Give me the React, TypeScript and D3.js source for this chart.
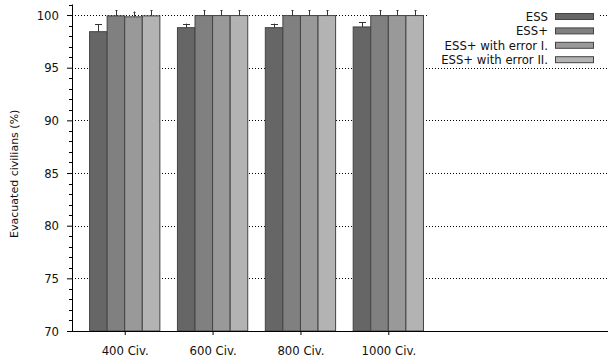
import * as d3 from "d3";
import { useEffect, useRef } from "react";

const categories = ["400 Civ.", "600 Civ.", "800 Civ.", "1000 Civ."];
const seriesNames = ["ESS", "ESS+", "ESS+ with error I.", "ESS+ with error II."];
const seriesColors = ["#666666", "#808080", "#999999", "#b3b3b3"];
const ess = [98.42, 98.8, 98.8, 98.87];
const essPlus = [99.92, 99.95, 99.95, 99.95];
const essErr1 = [99.83, 99.95, 99.95, 99.95];
const essErr2 = [99.92, 99.95, 99.95, 99.95];
const essErrBar = [0.72, 0.38, 0.38, 0.45];
const essPlusErrBar = [0.55, 0.5, 0.5, 0.5];
const essErr1ErrBar = [0.5, 0.5, 0.5, 0.5];
const essErr2ErrBar = [0.55, 0.5, 0.5, 0.5];
const yTicks = [70, 75, 80, 85, 90, 95, 100];

const FONT = "'DejaVu Sans', Verdana, sans-serif";

export default function App() {
  const width = 611, height = 360;
  const left = 72, right = 608, top = 4.5, bottom = 331;
  const gy = useRef<SVGGElement>(null);
  const gx = useRef<SVGGElement>(null);

  const x = d3.scaleLinear([-0.6, 5.5], [left, right]);
  const y = d3.scaleLinear([70, 101], [bottom, top]);
  const values = [ess, essPlus, essErr1, essErr2];
  const errs = [essErrBar, essPlusErrBar, essErr1ErrBar, essErr2ErrBar];
  const barW = 0.2;
  const minor = d3.range(70, 102, 1).filter(v => v % 5 !== 0);

  useEffect(() => {
    const ax = d3.axisLeft(y).tickValues(yTicks).tickSize(5).tickPadding(8).tickFormat(d3.format("d"));
    const g = d3.select(gy.current!).call(ax);
    g.attr("font-family", FONT).attr("font-size", 11.7);
    g.select(".domain").remove();
    g.selectAll("text").attr("fill", "#111").attr("dy", "0.36em");
    g.selectAll("line").attr("stroke", "#000");
  }, []);

  useEffect(() => {
    const ax = d3.axisBottom(x).tickValues(d3.range(categories.length)).tickSize(4).tickPadding(12)
      .tickFormat((d) => categories[d as number]);
    const g = d3.select(gx.current!).call(ax);
    g.attr("font-family", FONT).attr("font-size", 11.7);
    g.select(".domain").remove();
    g.selectAll("text").attr("fill", "#111");
    g.selectAll("line").attr("stroke", "#000");
  }, []);

  return (
    <svg width={width} height={height} style={{ position: "absolute", left: 0, top: 0 }}
         fontFamily={FONT}>
      <rect width={width} height={height} fill="white" />
      {yTicks.map(t => (
        <line key={t} x1={left} x2={right} y1={Math.round(y(t)) + 0.5} y2={Math.round(y(t)) + 0.5}
              stroke="#000" strokeWidth={1} strokeDasharray="1,2" />
      ))}
      {values.map((vals, j) => (
        <g key={j}>
          {vals.map((v, i) => {
            const x0 = x(i + (j - 2) * barW);
            const x1 = x(i + (j - 1) * barW);
            return (
              <rect key={i} x={x0} y={y(v)} width={x1 - x0} height={bottom - y(v)}
                    fill={seriesColors[j]} stroke="#444" strokeWidth={1} />
            );
          })}
        </g>
      ))}
      {values.map((vals, j) => (
        <g key={"e" + j} stroke="#333" strokeWidth={1}>
          {vals.map((v, i) => {
            const cx = Math.round(x(i + (j - 1.5) * barW)) + 0.5;
            const e = errs[j][i];
            const cap = j === 0 ? 3.5 : 1;
            return (
              <g key={i}>
                <line x1={cx} x2={cx} y1={y(v)} y2={y(v + e)} />
                <line x1={cx - cap} x2={cx + cap} y1={Math.round(y(v + e)) + 0.5} y2={Math.round(y(v + e)) + 0.5} />
              </g>
            );
          })}
        </g>
      ))}
      <line x1={left + 0.5} x2={left + 0.5} y1={top} y2={bottom + 0.5} stroke="#000" />
      <line x1={left} x2={right} y1={bottom + 0.5} y2={bottom + 0.5} stroke="#000" />
      {minor.map(m => (
        <line key={m} x1={left - 3} x2={left} y1={Math.round(y(m)) + 0.5} y2={Math.round(y(m)) + 0.5} stroke="#000" />
      ))}
      <g ref={gy} transform={`translate(${left},0)`} />
      <g ref={gx} transform={`translate(0,${bottom})`} />
      <text transform={`translate(18,${(top + bottom) / 2 + 6}) rotate(-90)`} textAnchor="middle"
            fontSize={11} fill="#111">Evacuated civilians (%)</text>
      <rect x={428} y={6} width={170} height={60} fill="white" />
      {seriesNames.map((name, j) => {
        const ly = 16.5 + j * 14.4;
        return (
          <g key={name}>
            <text x={548} y={ly} dy="0.36em" textAnchor="end" fontSize={11.7} fill="#111">{name}</text>
            <rect x={555.5} y={ly - 3} width={38} height={6} fill={seriesColors[j]} stroke="#444" />
          </g>
        );
      })}
    </svg>
  );
}
